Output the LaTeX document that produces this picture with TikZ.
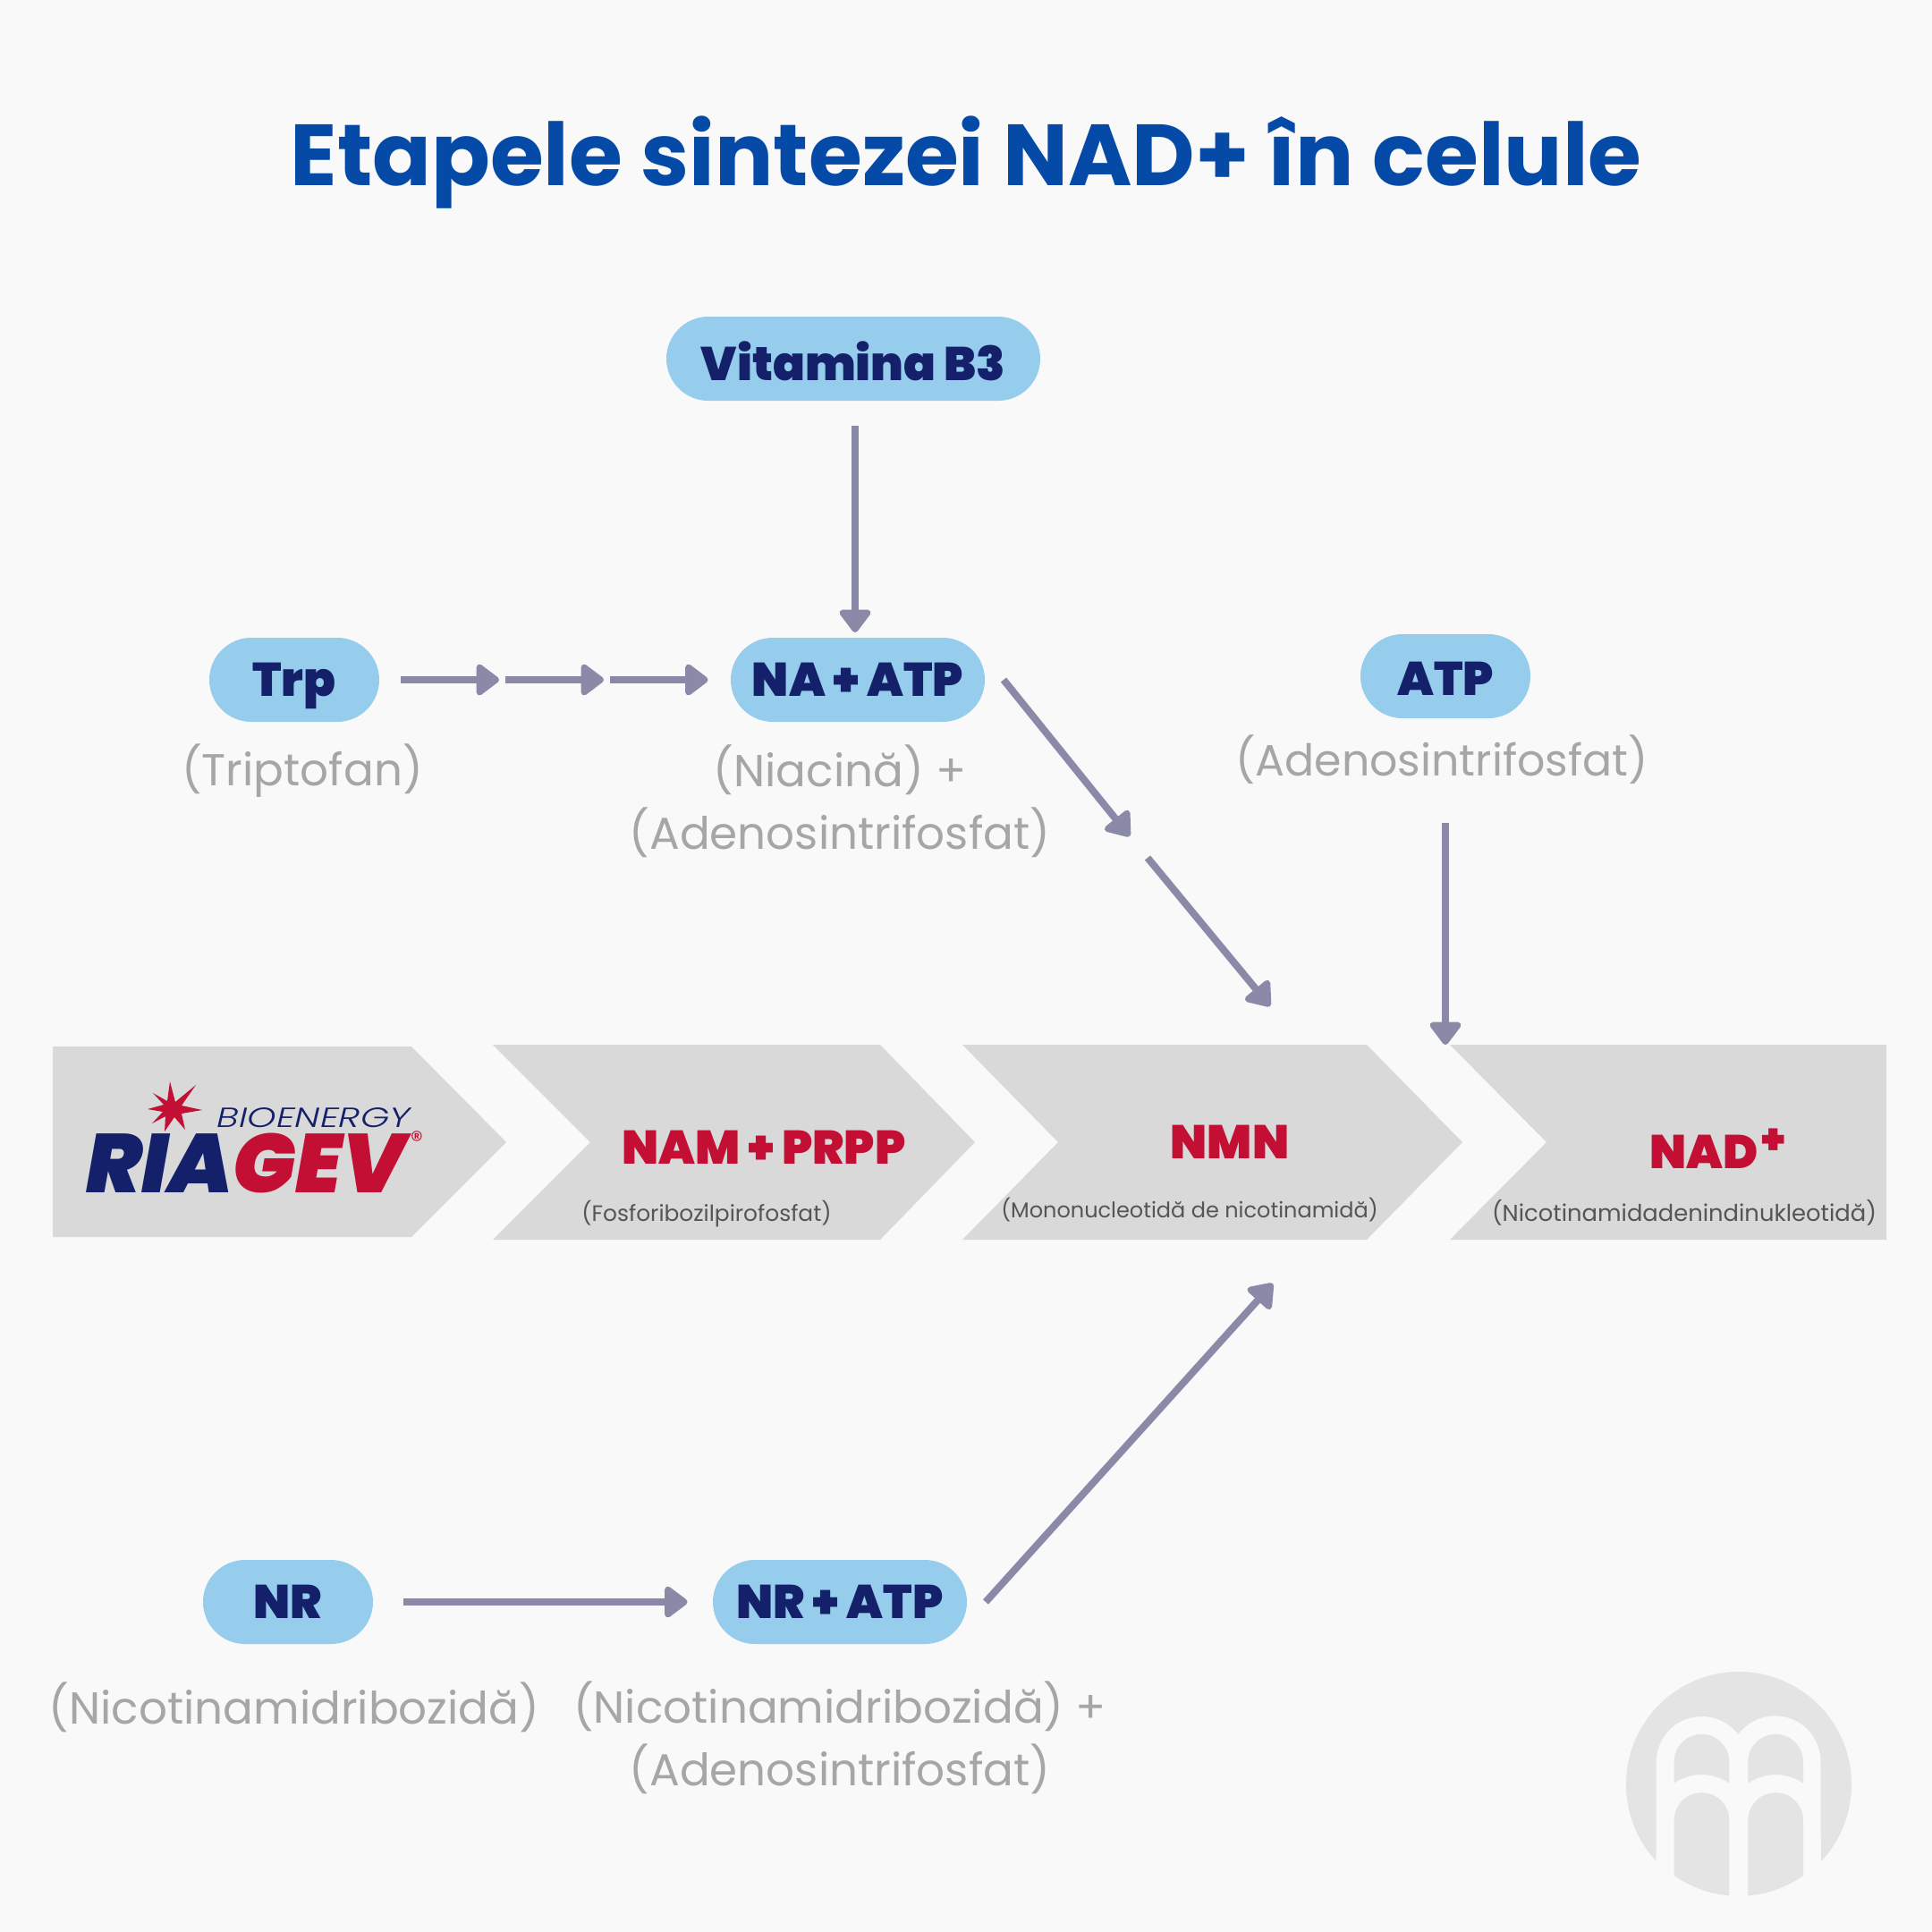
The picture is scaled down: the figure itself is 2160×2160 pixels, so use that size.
\documentclass[tikz,border=0pt]{standalone}
\usepackage{fontspec}
\usetikzlibrary{arrows.meta}
\setmainfont{Poppins}
\newfontfamily\heavyfont{Poppins}[UprightFont=* Black,ItalicFont=* Black Italic]
\newfontfamily\lightfont{Poppins}[UprightFont=* Light,ItalicFont=* Light Italic]
\definecolor{pagebg}{HTML}{F9F9F9}
\definecolor{titleblue}{HTML}{064AA8}
\definecolor{pillblue}{HTML}{97CDEC}
\definecolor{pillnavy}{HTML}{14206A}
\definecolor{flowgray}{HTML}{8A8AA8}
\definecolor{notegray}{HTML}{A6A6A6}
\definecolor{bandgray}{HTML}{D9D9D9}
\definecolor{bandred}{HTML}{C30F33}
\definecolor{subgray}{HTML}{555555}
\definecolor{markgray}{HTML}{E4E4E4}
\tikzset{
	pill/.style={fill=pillblue, text=pillnavy, rounded corners=23.5pt, inner sep=0pt, minimum height=47pt, text height=18.5pt, text depth=0pt, font=\heavyfont\fontsize{26.4}{30}\selectfont},
	note/.style={text=notegray, align=center, inner sep=0pt, font=\fontsize{25}{35}\selectfont},
	bandhead/.style={text=bandred, anchor=base, inner sep=0pt, font=\heavyfont\fontsize{26.4}{30}\selectfont},
	bandnote/.style={text=subgray, anchor=base, inner sep=0pt},
	flow/.style={draw=flowgray, line width=4pt, -{Triangle[round, length=14pt, width=20pt]}},
}

\begin{document}
\begin{tikzpicture}[x=.5pt, y=-.5pt]
	\useasboundingbox (0, 0) rectangle (2160, 2160);
	\fill[pagebg] (0, 0) rectangle (2160, 2160);
	\node[text=titleblue, anchor=base, inner sep=0pt, font=\bfseries\fontsize{48.5}{56}\selectfont] (title) at (1080, 207) {Etapele sintezei NAD+ în celule};
	% band of chevrons
	\fill[bandgray] (59, 1170)--(460, 1170)--(566, 1277)--(460, 1383)--(59, 1383)--cycle;
	\foreach \xa/\xb/\xc/\xd in {551/660/984/1090, 1076/1183/1528/1635}
		\fill[bandgray] (\xa, 1168)--(\xc, 1168)--(\xd, 1277)--(\xc, 1386)--(\xa, 1386)--(\xb, 1277)--cycle;
	\fill[bandgray] (1621, 1168)--(2109, 1168)--(2109, 1386)--(1621, 1386)--(1729, 1277)--cycle;
	\node[bandhead] (nam) at (854, 1301) {NAM\,+\,PRPP};
	\node[bandhead] (nmn) at (1375, 1295) {NMN};
	\node[bandhead] (nad) at (1920, 1306) {NAD\hspace{2pt}\raisebox{8pt}{\fontsize{24}{24}\selectfont +}};
	\node[bandnote, font=\fontsize{12.45}{16}\selectfont] (fosfo) at (790, 1365) {(Fosforibozilpirofosfat)};
	\node[bandnote, font=\fontsize{12}{16}\selectfont] (mono) at (1330, 1361) {(Mononucleotidă de nicotinamidă)};
	\node[bandnote, font=\fontsize{12.9}{16}\selectfont] (nicoad) at (1883, 1365) {(Nicotinamidadenindinukleotidă)};
	% logo
	\fill[bandred] (190, 1209)--(196, 1232)--(219, 1213)--(203, 1236)--(226, 1241)--(203, 1245)--(207, 1263)--(195, 1249)--(184, 1265)--(185, 1248)--(170, 1256)--(182, 1243)--(165, 1240)--(183, 1235)--(171, 1222)--(187, 1231)--cycle;
	\node[text=pillnavy, anchor=base west, inner sep=0pt, xscale=1.33, font=\lightfont\itshape\fontsize{15.5}{18}\selectfont] (bio) at (242, 1260) {BIOENERGY};
	\node[anchor=base west, inner sep=0pt, font=\heavyfont\itshape\fontsize{46.5}{50}\selectfont] (riagev) at (96, 1333) {\textcolor{pillnavy}{RIA}\textcolor{bandred}{GEV}};
	\node[text=bandred, inner sep=0pt, font=\fontsize{14}{16}\selectfont] (reg) at (466, 1275) {®};
	% pills
	\node[pill, minimum width=209pt, text height=24pt] (vit) at (954, 401) {Vitamina B3};
	\node[pill, minimum width=95pt] (trp) at (329, 760) {Trp};
	\node[pill, minimum width=142pt] (naatp) at (959, 760) {NA\,+\,ATP};
	\node[pill, minimum width=95pt, text height=21.3pt] (atp) at (1616, 756) {ATP};
	\node[pill, minimum width=95pt] (nr) at (322, 1791) {NR};
	\node[pill, minimum width=142pt] (nratp) at (939, 1791) {NR\,+\,ATP};
	% gray notes
	\node[note, anchor=base] (ntrp) at (338, 878) {(Triptofan)};
	\node[note] (nna) at (939, 896) {(Niacină) +\\(Adenosintrifosfat)};
	\node[note, anchor=base, font=\fontsize{24.5}{35}\selectfont] (natp) at (1612, 867) {(Adenosintrifosfat)};
	\node[note, anchor=base] (nnr) at (329, 1927) {(Nicotinamidribozidă)};
	\node[note] (nnra) at (939, 1943) {(Nicotinamidribozidă) +\\(Adenosintrifosfat)};
	% free ends of the arrows
	\coordinate (t1) at (558, 760);
	\coordinate (t2) at (565, 760);
	\coordinate (t3) at (675, 760);
	\coordinate (t4) at (682, 760);
	\coordinate (d1) at (1263, 935);
	\coordinate (d2) at (1283, 959);
	\coordinate (d3) at (1420, 1125);
	\coordinate (a1) at (1616, 1168);
	\coordinate (a0) at (1616, 920);
	\coordinate (r1) at (1423, 1435);
	\coordinate (v0) at (956, 476);
	\coordinate (v1) at (956, 707);
	\draw[flow] (v0)--(v1);
	\draw[flow, shorten <=12pt] (trp.east)--(t1);
	\draw[flow] (t2)--(t3);
	\draw[flow, shorten >=12.5pt] (t4)--(naatp.west);
	\draw[flow] ([xshift=10.3pt]naatp.east)--(d1);
	\draw[flow] (d2)--(d3);
	\draw[flow] (a0)--(a1);
	\draw[flow, shorten <=17pt, shorten >=14pt] (nr.east)--(nratp.west);
	\draw[flow] ([xshift=10.3pt]nratp.east)--(r1);
	% watermark
	\fill[markgray] (1944, 1995) circle[radius=126];
	\begin{scope}[shift={(1780, 1840)}, x=.16667pt, y=-.16667pt]
		\fill[pagebg] (215, 900)--(215, 390) arc[start angle=180, end angle=322.5, radius=153]--(492, 295) arc[start angle=217.5, end angle=360, radius=153]--(768, 900)--cycle;
		\clip (492, 462) circle[radius=377];
		\foreach \dx in {0, 248} {
			\fill[markgray] (275+\dx, 460)--(275+\dx, 389) arc[start angle=180, end angle=360, radius=92.5]--(460+\dx, 460) .. controls (430+\dx, 442) and (400+\dx, 432) .. (367+\dx, 432) .. controls (335+\dx, 432) and (305+\dx, 442) .. (275+\dx, 460)--cycle;
			\fill[markgray] (275+\dx, 900)--(275+\dx, 585) arc[start angle=180, end angle=360, radius=92.5]--(460+\dx, 900)--cycle;
		}
	\end{scope}
\end{tikzpicture}
\end{document}
